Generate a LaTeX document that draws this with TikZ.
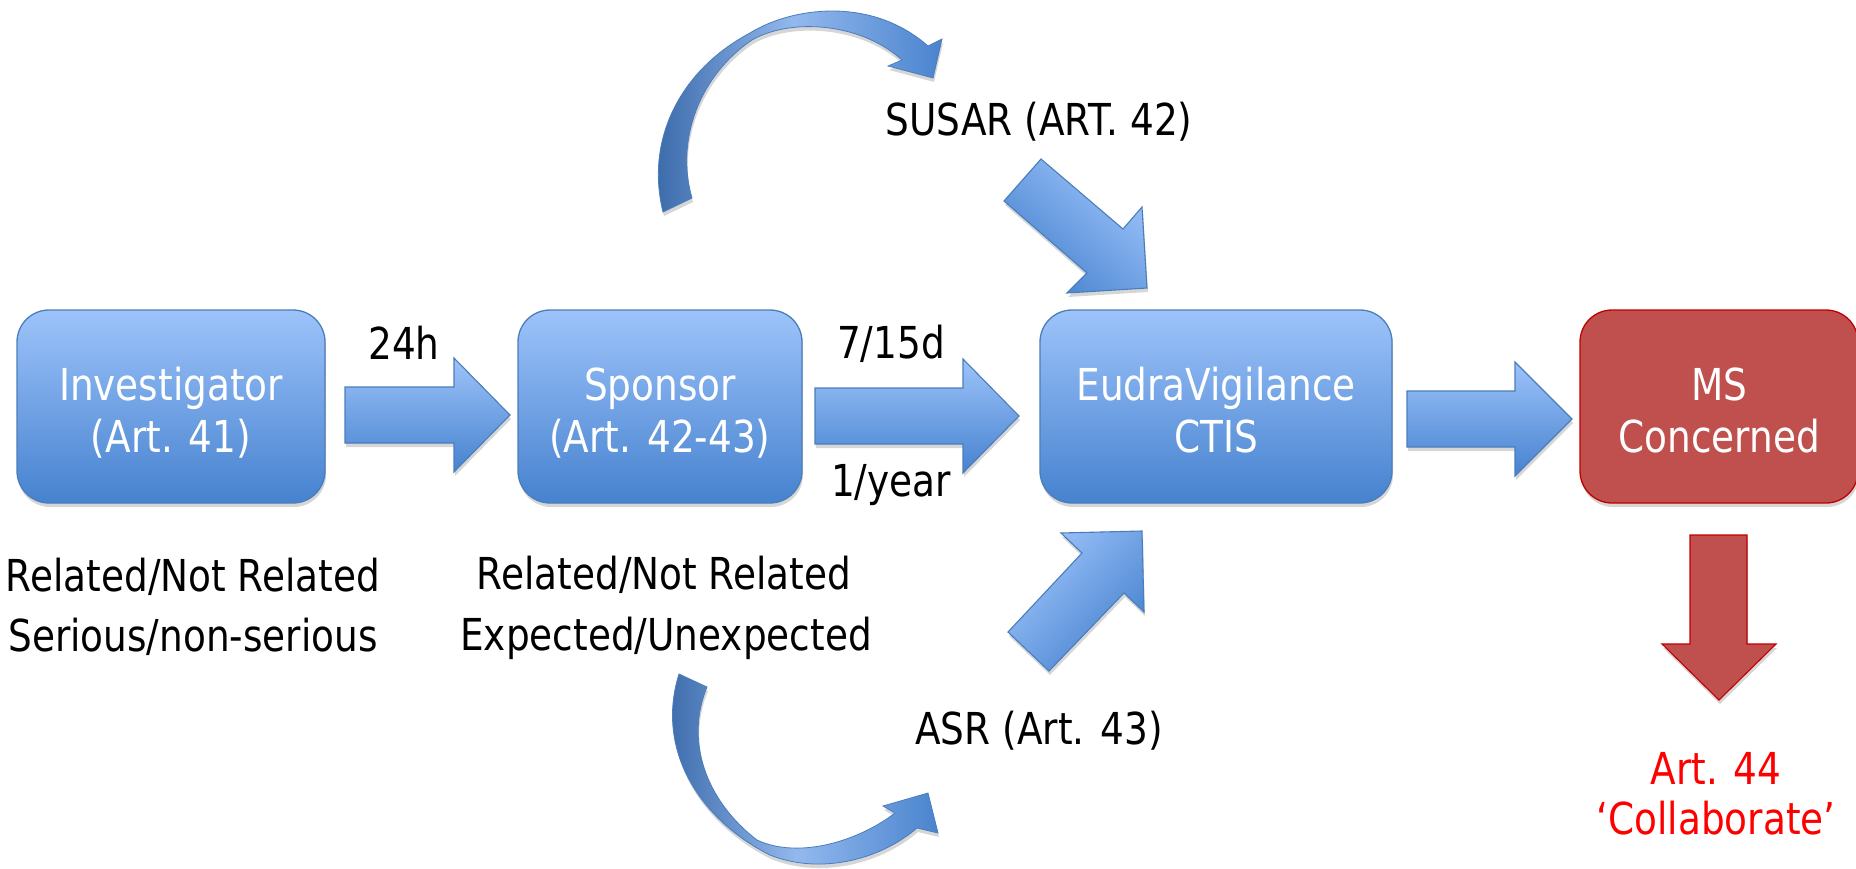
\documentclass[tikz,border=0pt]{standalone}
\usepackage{fontspec}
\setmainfont{DejaVu Sans}[FakeStretch=0.85]
\usetikzlibrary{shadows}
\definecolor{bxtop}{HTML}{9DC3FA}
\definecolor{bxbot}{HTML}{4682CF}
\definecolor{bxline}{HTML}{4A7EBB}
\definecolor{redfill}{HTML}{C0504D}
\definecolor{redline}{HTML}{C00000}
\definecolor{cdark}{HTML}{3565A5}
\definecolor{clight}{HTML}{93B8EE}
\definecolor{cmid}{HTML}{4A84CE}
\definecolor{redtext}{HTML}{FF0000}
\newcommand\harrow[4]{\path[blockarr] (#1,#4-28) -- (#2,#4-28) -- (#2,#4-57) -- (#3,#4) -- (#2,#4+57) -- (#2,#4+28) -- (#1,#4+28) -- cycle;}
\begin{document}
\begin{tikzpicture}[x=1pt,y=-1pt,
  shad/.style={drop shadow={shadow xshift=1pt,shadow yshift=-4pt,opacity=0.16,fill=black}},
  bluebox/.style={rectangle,draw=bxline,line width=1.3pt,rounded corners=32pt,top color=bxtop,bottom color=bxbot,shad,minimum height=193pt},
  redbox/.style={rectangle,draw=redline,line width=1.3pt,rounded corners=32pt,fill=redfill,shad,minimum height=193pt},
  blockarr/.style={draw=bxline,line width=1.1pt,top color=bxtop,bottom color=bxbot,shad},
  redarr/.style={draw=redline,line width=1.1pt,fill=redfill,shad},
  curvarr/.style={draw=bxline,line width=0.8pt,left color=cdark,right color=cmid,middle color=clight,shad},
  txt/.style={font=\fontsize{44}{52}\selectfont,inner sep=0pt,anchor=base},
  wtxt/.style={txt,text=white},
  rtxt/.style={txt,text=redtext}]
\useasboundingbox (0,0) rectangle (1856,868);
\fill[white] (0,0) rectangle (1856,868);

% boxes
\node[bluebox,minimum width=308pt] (inv) at (171,406.5) {};
\node[bluebox,minimum width=284pt] (spo) at (660,406.5) {};
\node[bluebox,minimum width=352pt] (eud) at (1216,406.5) {};
\node[redbox,minimum width=278pt] (ms) at (1719,406.5) {};

% box texts
\node[wtxt] (inv1) at (171,400) {Investigator};
\node[wtxt] (inv2) at (171,452) {(Art. 41)};
\node[wtxt] (spo1) at (660,400) {Sponsor};
\node[wtxt] (spo2) at (660,452) {(Art. 42-43)};
\node[wtxt] (eud1) at (1216,400) {EudraVigilance};
\node[wtxt] (eud2) at (1216,452) {CTIS};
\node[wtxt] (ms1) at (1719,400) {MS};
\node[wtxt] (ms2) at (1719,452) {Concerned};

% horizontal block arrows
\harrow{345}{454}{510}{415}
\harrow{815}{963}{1019}{416}
\harrow{1407}{1515}{1572}{419}

% red down arrow
\path[redarr] (1690,535) -- (1747,535) -- (1747,644) -- (1776,644) -- (1719,700) -- (1662,644) -- (1690,644) -- cycle;

% diagonal arrows
\path[blockarr,shading angle=-41] (1041,159) -- (1123,229) -- (1142,207) -- (1147,288) -- (1067,293) -- (1087,273) -- (1004,201) -- cycle;
\path[blockarr,shading angle=46] (1008,632) -- (1082,553) -- (1061,533) -- (1142,531) -- (1144,612) -- (1124,593) -- (1049,671) -- cycle;

% curved arrows
\path[curvarr] (663,212) .. controls (645,140) and (680,70) .. (750,33)
  .. controls (790,8) and (870,-5) .. (928,46) -- (942,39) -- (933,78) -- (888,66) -- (902,60)
  .. controls (860,22) and (790,18) .. (752,40)
  .. controls (700,75) and (675,140) .. (692,198) -- cycle;
\path[curvarr] (679,674) .. controls (655,750) and (700,820) .. (770,855)
  .. controls (820,875) and (880,860) .. (917,828) -- (938,833) -- (928,793) -- (883,806) -- (895,813)
  .. controls (860,840) and (800,860) .. (757,840)
  .. controls (705,800) and (685,740) .. (707,687) -- cycle;

% labels
\node[txt] (l24) at (404,359) {24h};
\node[txt] (l715) at (891,358) {7/15d};
\node[txt] (l1y) at (891,496) {1/year};
\node[txt] (susar) at (1039,135) {SUSAR (ART. 42)};
\node[txt] (asr) at (1039,744) {ASR (Art. 43)};
\node[txt] (ir1) at (193,591) {Related/Not Related};
\node[txt] (ir2) at (193,651) {Serious/non-serious};
\node[txt] (sr1) at (664,589) {Related/Not Related};
\node[txt] (sr2) at (666,650) {Expected/Unexpected};
\node[rtxt] (a44) at (1716,784) {Art. 44};
\node[rtxt] (col) at (1716,834) {‘Collaborate’};
\end{tikzpicture}
\end{document}
